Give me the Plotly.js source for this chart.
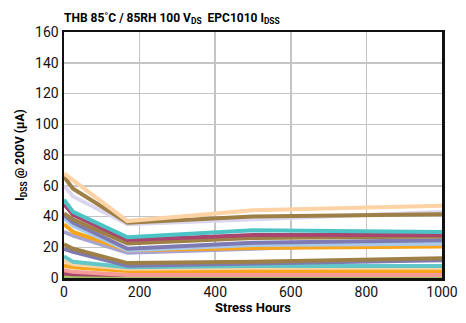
<!DOCTYPE html>
<html>
<head>
<meta charset="utf-8">
<script src="https://cdn.plot.ly/plotly-3.0.1.min.js"></script>
<style>
html,body{margin:0;padding:0;background:#fff;}
#chart{width:466px;height:323px;}
</style>
</head>
<body>
<div id="chart"></div>
<script>
const hours = [0, 24, 168, 500, 1000];

const seriesNames = ["D1","D2","D3","D4","D5","D6","D7","D8","D9","D10","D11","D12","D13","D14","D15","D16","D17","D18","D19","D20"];
const seriesColors = ["#FDD3A6","#9E8047","#DAD6EE","#4CC3C4","#A9466F","#9E8047","#7D7BB1","#A9C9EA","#F8A51C","#A6A4D1","#9E8047","#7D7BB1","#62C7C7","#FDD3A6","#F8A51C","#F39C9A","#A9466F","#A3C25B","#7D7BB1","#A6A4D1"];
const d1  = [68, 63.5, 37, 44, 47];
const d2  = [66, 58, 36, 40, 41.5];
const d3  = [60, 53, 35, 38, 43];
const d4  = [51, 43, 26.5, 31, 30];
const d5  = [48, 41, 24.7, 28, 28];
const d6  = [42, 38, 22.5, 26, 27];
const d7  = [41, 36, 19, 23, 24.5];
const d8  = [39, 34, 18, 21.4, 22.3];
const d9  = [35, 30, 18, 19.5, 20.5];
const d10 = [30, 27.5, 16.5, 19, 23.5];
const d11 = [22, 19, 9.7, 10.6, 12.8];
const d12 = [19, 17, 8, 9.3, 11.5];
const d13 = [14, 10.5, 7, 7.8, 7.8];
const d14 = [11, 9, 6, 6.7, 6.7];
const d15 = [8, 7, 4.5, 4.5, 4.5];
const d16 = [5, 4, 2, 2, 2];
const d17 = [3, 2.5, 2, 2.5, 2.5];
const d18 = [1.5, 1.2, 1, 1, 1];
const d19 = [2, 1.5, 1, 1, 1];
const d20 = [1, 1, 0.5, 0.5, 0.5];
const seriesValues = [d1,d2,d3,d4,d5,d6,d7,d8,d9,d10,d11,d12,d13,d14,d15,d16,d17,d18,d19,d20];

const xTickVals = [0, 200, 400, 600, 800, 1000];
const yTickVals = [0, 20, 40, 60, 80, 100, 120, 140, 160];

const FONT = "Roboto, 'Liberation Sans', sans-serif";

const traces = seriesValues.map((vals, i) => ({
  type: "scatter",
  mode: "lines",
  name: seriesNames[i],
  x: hours,
  y: vals,
  line: {color: seriesColors[i], width: 4},
  hoverinfo: "x+y"
}));
traces.reverse();

const layout = {
  width: 466,
  height: 323,
  margin: {l: 64, r: 24, t: 32, b: 45},
  paper_bgcolor: "#fff",
  plot_bgcolor: "#fff",
  showlegend: false,
  font: {family: FONT, color: "#111"},
  title: {
    text: "<b>THB 85˚C / 85RH 100 V<sub>DS</sub>  EPC1010 I<sub>DSS</sub></b>",
    font: {family: FONT, size: 12, color: "#000"},
    xref: "paper", x: 0, xanchor: "left",
    yref: "container", y: 0.945, yanchor: "middle"
  },
  xaxis: {
    range: [0, 1000],
    tickvals: xTickVals,
    ticktext: xTickVals.map(String),
    showgrid: true, gridcolor: "#C4C4C4", gridwidth: 1.5,
    zeroline: false,
    showline: true, linecolor: "#111", linewidth: 2.5, mirror: true,
    ticks: "",
    tickfont: {family: FONT, size: 14, color: "#111"},
    title: {text: "<b>Stress Hours</b>", font: {family: FONT, size: 13, color: "#000"}, standoff: 4}
  },
  yaxis: {
    range: [0, 160],
    tickvals: yTickVals,
    ticktext: yTickVals.map(String),
    showgrid: true, gridcolor: "#C4C4C4", gridwidth: 1.5,
    zeroline: false,
    showline: true, linecolor: "#111", linewidth: 2.5, mirror: true,
    ticks: "",
    tickfont: {family: FONT, size: 14, color: "#111"},
    title: {text: "<b>I<sub>DSS</sub> @ 200V (µA)</b>", font: {family: FONT, size: 12, color: "#000"}, standoff: 8}
  }
};

Plotly.newPlot("chart", traces, layout, {displayModeBar: false, staticPlot: true});
</script>
</body>
</html>
